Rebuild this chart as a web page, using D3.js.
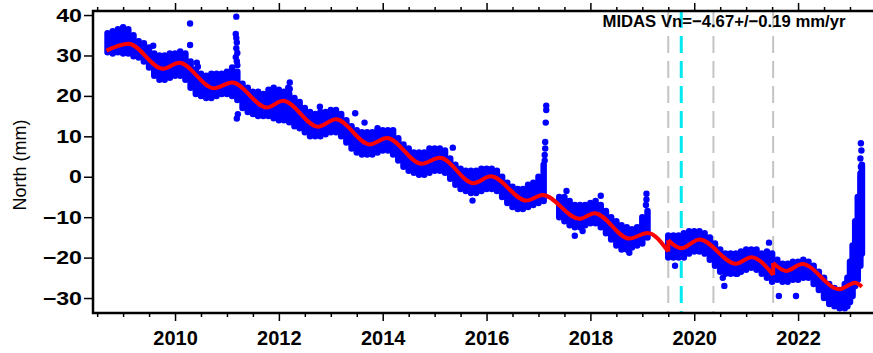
<!DOCTYPE html>
<html>
<head>
<meta charset="utf-8">
<script src="https://cdn.jsdelivr.net/npm/d3@7"></script>
<style>
  body { margin: 0; background: #fff; }
  svg { display: block; }
</style>
</head>
<body>
<div id="chart"></div>
<script>
// daily north positions, summarised per 0.1 yr bin as [year, low, high] (mm)
const bins = [
  [2008.7, 30.8, 35.5], [2008.8, 30.5, 36], [2008.9, 30.8, 36.5], [2009.0, 30.5, 37],
  [2009.1, 30.5, 36.5], [2009.2, 29.8, 35], [2009.3, 29.5, 33.5], [2009.4, 28.5, 33],
  [2009.5, 27, 32], [2009.6, 25, 30.5], [2009.7, 24, 30], [2009.8, 24, 30],
  [2009.9, 24.5, 30.5], [2010.0, 25, 30.5], [2010.1, 25, 31], [2010.2, 24, 30.5],
  [2010.3, 22, 28.5], [2010.4, 20.5, 26.5], [2010.5, 20, 25.5], [2010.6, 19.5, 25],
  [2010.7, 19.5, 25.5], [2010.8, 20, 25.5], [2010.9, 20.5, 25.5], [2011.0, 20.5, 26],
  [2011.1, 20, 27], [2011.2, 19, 26], [2011.3, 17, 23], [2011.4, 16, 22],
  [2011.5, 15.5, 21], [2011.6, 15, 21], [2011.7, 15, 20.5], [2011.8, 15, 21.5],
  [2011.9, 14.5, 22], [2012.0, 14, 21.5], [2012.1, 14, 21], [2012.2, 13.5, 20.5],
  [2012.3, 12.5, 19.5], [2012.4, 12, 18.5], [2012.5, 11, 17], [2012.6, 10, 16],
  [2012.7, 10, 15.5], [2012.8, 10, 16], [2012.9, 10.5, 16], [2013.0, 11, 16.5],
  [2013.1, 11, 16.5], [2013.2, 10, 15.5], [2013.3, 8.5, 14], [2013.4, 7, 12.5],
  [2013.5, 6, 11.5], [2013.6, 5.5, 11], [2013.7, 5.5, 11], [2013.8, 5.5, 11],
  [2013.9, 6, 12], [2014.0, 6.5, 11.5], [2014.1, 6.5, 11.5], [2014.2, 5.5, 11.5],
  [2014.3, 4, 9.5], [2014.4, 2.5, 8], [2014.5, 1.5, 7], [2014.6, 1, 6],
  [2014.7, 0.5, 6], [2014.8, 0.5, 6], [2014.9, 1, 7], [2015.0, 1.5, 7],
  [2015.1, 1.5, 7], [2015.2, 1, 6.5], [2015.3, -0.5, 4.5], [2015.4, -2, 3],
  [2015.5, -3, 2], [2015.6, -3.5, 1.5], [2015.7, -4, 1.5], [2015.8, -4, 1.5],
  [2015.9, -3.5, 2], [2016.0, -3, 2], [2016.1, -3, 2], [2016.2, -3.5, 1.5],
  [2016.3, -5, 0], [2016.4, -6.5, -1.5], [2016.5, -7.5, -2.5], [2016.6, -8, -3],
  [2016.7, -8, -3], [2016.8, -7.5, -2], [2016.9, -7, -1.5], [2017.0, -6.5, 0],
  [2017.1, -6, 3],
  [2017.4, -10, -5], [2017.5, -11, -5], [2017.6, -12, -6], [2017.7, -12.5, -7],
  [2017.8, -12.5, -7], [2017.9, -12, -7], [2018.0, -11.5, -6.5], [2018.1, -11.5, -6],
  [2018.2, -12.5, -7], [2018.3, -14, -8.5], [2018.4, -15.5, -10], [2018.5, -17, -11],
  [2018.6, -18, -12], [2018.7, -18, -12.5], [2018.8, -17.5, -13], [2018.9, -17, -12.5],
  [2019.0, -16.5, -10], [2019.1, -15, -8.5],
  [2019.5, -20, -14.5], [2019.6, -20, -14.5], [2019.7, -20, -14.5], [2019.8, -20, -14],
  [2019.9, -19, -13.5], [2020.0, -18.5, -13.5], [2020.1, -18.5, -13.5], [2020.2, -19, -14],
  [2020.3, -20.5, -15], [2020.4, -22, -16.5], [2020.5, -23.5, -18], [2020.6, -24, -19],
  [2020.7, -24, -19], [2020.8, -24, -19], [2020.9, -23.5, -18.5], [2021.0, -23, -18],
  [2021.1, -22.5, -18], [2021.2, -23, -18], [2021.3, -24, -19], [2021.4, -25, -18.5],
  [2021.5, -26, -19], [2021.6, -25.5, -20.5], [2021.7, -26, -21.5], [2021.8, -26, -21.5],
  [2021.9, -25.5, -21], [2022.0, -25.5, -21], [2022.1, -25, -20.5], [2022.2, -25, -21],
  [2022.3, -26.5, -22], [2022.4, -28, -23.5], [2022.5, -30, -25], [2022.6, -31.5, -26.5],
  [2022.7, -32, -27.5], [2022.8, -32.5, -28], [2022.9, -32.5, -26.5], [2022.95, -32, -25],
  [2023.0, -31, -21], [2023.05, -29.5, -17], [2023.1, -27, -11], [2023.15, -25.5, -5],
  [2023.2, -22, 0], [2023.23, -19, 3]
];

// single points standing off the main band [year, north mm]
const outliers = [
  [2009.58, 32.4], [2010.29, 37.9], [2010.29, 32.6], [2010.42, 28.2], [2010.44, 27.2],
  [2011.18, 39.6], [2011.17, 35.3], [2011.18, 34.3], [2011.19, 33.2], [2011.18, 31.8],
  [2011.2, 30.6], [2011.17, 29.6], [2011.19, 28.6], [2011.2, 27.6], [2011.21, 15.5], [2011.19, 14.4],
  [2012.21, 23.3], [2012.21, 21.7], [2012.18, 22], [2012.79, 17.3], [2013.47, 15.7],
  [2013.65, 13.4], [2015.35, 7.2], [2015.73, -5.9],
  [2017.15, 17.6], [2017.15, 16.5], [2017.14, 13.4], [2017.13, 8.6], [2017.13, 7.0],
  [2017.12, 5.4], [2017.12, 4], [2017.54, -3.5], [2017.7, -14.6], [2017.85, -13.4],
  [2018.2, -4.7], [2018.75, -18.8], [2019.08, -4.2], [2019.08, -5.6], [2019.07, -7],
  [2019.63, -22], [2020.55, -25], [2020.58, -27], [2020.83, -24], [2021.44, -16.3],
  [2021.63, -29.5], [2021.96, -29.5],
  [2023.21, 8.3], [2023.22, 6.5], [2023.2, 4.5], [2023.21, 2.5], [2023.2, 0.8]
];

// fitted model (trend + seasonal + offsets), key points per segment
const modelSeg1 = [
  [2008.68, 31.2], [2009.1, 32.9], [2009.77, 26.7], [2010.08, 28.2], [2010.75, 21.9],
  [2011.1, 23.3], [2011.77, 17.1], [2012.08, 18.8], [2012.75, 12.4], [2013.1, 14.2],
  [2013.75, 8.0], [2014.08, 9.6], [2014.75, 3.2], [2015.1, 4.7], [2015.75, -1.6],
  [2016.08, 0.1], [2016.77, -5.9], [2017.08, -4.5], [2017.79, -10.4], [2018.08, -9.0],
  [2018.75, -15.3], [2019.1, -13.9], [2019.5, -18.5]
];
const modelSeg2 = [
  [2019.5, -15.7], [2019.75, -17.7], [2020.1, -15.5], [2020.8, -21.5], [2021.1, -19.9],
  [2021.52, -24.3]
];
const modelSeg3 = [
  [2021.52, -21.3], [2021.77, -23.3], [2022.08, -21.6], [2022.79, -27.8], [2023.1, -26.2],
  [2023.23, -27.2]
];

const offsets = [2019.5, 2020.37, 2021.52];
const eqOffsets = [2019.75];
const yTicks = [-30, -20, -10, 0, 10, 20, 30, 40];
const xMajor = [2010, 2012, 2014, 2016, 2018, 2020, 2022];
const title = "MIDAS Vn=\u22124.67+/\u22120.19 mm/yr";

const width = 873, height = 353;
const m = { left: 93, top: 11, bottom: 313, right: 880 };

const svg = d3.select("#chart").append("svg")
  .attr("width", width)
  .attr("height", height)
  .style("font-family", "'Liberation Sans', Arial, sans-serif");

const x = d3.scaleLinear().domain([2008.42, 2023.578]).range([m.left, m.right]);
const y = d3.scaleLinear().domain([-33.7, 41.0]).range([m.bottom, m.top]);

svg.append("clipPath").attr("id", "plot")
  .append("rect")
  .attr("x", m.left).attr("y", m.top)
  .attr("width", m.right - m.left).attr("height", m.bottom - m.top);

const plot = svg.append("g").attr("clip-path", "url(#plot)");

// offset markers (under the data)
plot.append("g").selectAll("line")
  .data(offsets)
  .enter().append("line")
  .attr("x1", d => x(d)).attr("x2", d => x(d))
  .attr("y1", m.top).attr("y2", m.bottom)
  .attr("stroke", "#c4c4c4")
  .attr("stroke-width", 2)
  .attr("stroke-dasharray", "17,8");

plot.append("g").selectAll("line")
  .data(eqOffsets)
  .enter().append("line")
  .attr("x1", d => x(d)).attr("x2", d => x(d))
  .attr("y1", m.top).attr("y2", m.bottom)
  .attr("stroke", "#00e8f0")
  .attr("stroke-width", 3)
  .attr("stroke-dasharray", "17,8");

// data band, one capsule per bin
plot.append("g").selectAll("line")
  .data(bins)
  .enter().append("line")
  .attr("x1", d => x(d[0])).attr("x2", d => x(d[0]))
  .attr("y1", d => y(d[1])).attr("y2", d => y(d[2]))
  .attr("stroke", "#0000ff")
  .attr("stroke-width", 6.5)
  .attr("stroke-linecap", "round");

plot.append("g").selectAll("circle")
  .data(outliers)
  .enter().append("circle")
  .attr("cx", d => x(d[0]))
  .attr("cy", d => y(d[1]))
  .attr("r", 3.2)
  .attr("fill", "#0000ff");

// model curve
const line = d3.line()
  .x(d => x(d[0]))
  .y(d => y(d[1]))
  .curve(d3.curveMonotoneX);

plot.append("g").selectAll("path")
  .data([modelSeg1, modelSeg2, modelSeg3])
  .enter().append("path")
  .attr("d", line)
  .attr("fill", "none")
  .attr("stroke", "#ff0000")
  .attr("stroke-width", 4)
  .attr("stroke-linejoin", "round");

// jumps between segments
plot.append("g").selectAll("line")
  .data([[modelSeg1, modelSeg2], [modelSeg2, modelSeg3]])
  .enter().append("line")
  .attr("x1", d => x(d[0][d[0].length - 1][0]))
  .attr("x2", d => x(d[1][0][0]))
  .attr("y1", d => y(d[0][d[0].length - 1][1]))
  .attr("y2", d => y(d[1][0][1]))
  .attr("stroke", "#ff0000")
  .attr("stroke-width", 4);

// axes
const minor = d3.range(2008.5, 2023.6, 0.5).filter(v => xMajor.indexOf(v) < 0);

const xBottom = d3.axisBottom(x).tickValues(xMajor).tickSize(8).tickFormat(d3.format("d"));
const gx = svg.append("g").attr("transform", `translate(0,${m.bottom})`).call(xBottom);
gx.select(".domain").remove();
gx.selectAll("line").attr("stroke", "#000").attr("stroke-width", 1.5);
gx.selectAll("text")
  .attr("dy", null).attr("y", 32)
  .style("font-size", "20px").style("font-weight", "bold").attr("fill", "#000");

const gxm = svg.append("g").attr("transform", `translate(0,${m.bottom})`)
  .call(d3.axisBottom(x).tickValues(minor).tickSize(4).tickFormat(""));
gxm.select(".domain").remove();
gxm.selectAll("line").attr("stroke", "#000").attr("stroke-width", 1.5);

const gt = svg.append("g").attr("transform", `translate(0,${m.top})`)
  .call(d3.axisTop(x).tickValues(xMajor).tickSize(8).tickFormat(""));
gt.select(".domain").remove();
gt.selectAll("line").attr("stroke", "#000").attr("stroke-width", 1.5);

const gtm = svg.append("g").attr("transform", `translate(0,${m.top})`)
  .call(d3.axisTop(x).tickValues(minor).tickSize(4).tickFormat(""));
gtm.select(".domain").remove();
gtm.selectAll("line").attr("stroke", "#000").attr("stroke-width", 1.5);

const gy = svg.append("g").attr("transform", `translate(${m.left},0)`)
  .call(d3.axisLeft(y).tickValues(yTicks).tickSize(9)
    .tickFormat(d => d < 0 ? "\u2212" + Math.abs(d) : d));
gy.select(".domain").remove();
gy.selectAll("line").attr("stroke", "#000").attr("stroke-width", 1.5);
// GMT-style labels are a little wider than Liberation bold, stretch horizontally
gy.selectAll("text")
  .attr("x", -11 / 1.22)
  .attr("transform", "scale(1.22,1)")
  .style("font-size", "19px").style("font-weight", "bold").attr("fill", "#000");

// frame
svg.append("path")
  .attr("d", `M${m.right},${m.top}H${m.left}V${m.bottom}H${m.right}`)
  .attr("fill", "none")
  .attr("stroke", "#000")
  .attr("stroke-width", 2.5);

svg.append("text")
  .attr("transform", "translate(26,165) rotate(-90)")
  .attr("text-anchor", "middle")
  .style("font-size", "18px")
  .text("North (mm)");

svg.append("text")
  .attr("x", 724).attr("y", 27)
  .attr("text-anchor", "middle")
  .style("font-size", "16.7px").style("font-weight", "bold")
  .text(title);
</script>
</body>
</html>
